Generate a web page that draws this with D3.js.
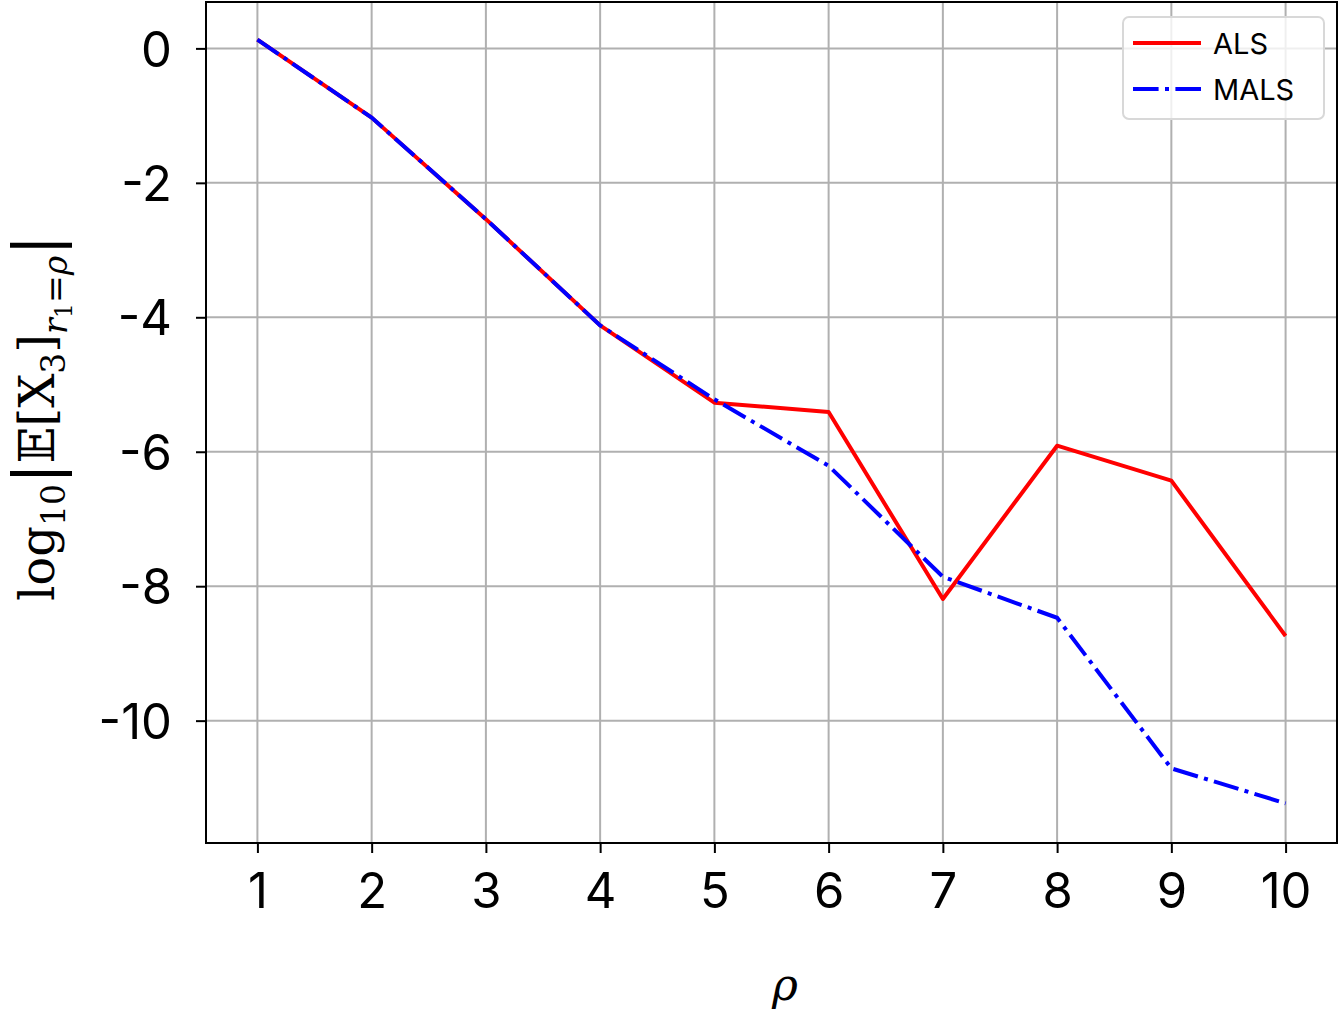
<!DOCTYPE html>
<html>
<head>
<meta charset="utf-8">
<script src="https://cdn.jsdelivr.net/npm/d3@7"></script>
<style>
  body { margin: 0; background: #fff; }
  text { font-family: Inter, "DejaVu Sans", sans-serif; }
</style>
</head>
<body>
<svg id="chart" width="1341" height="1017"></svg>
<script>
const rho = [1, 2, 3, 4, 5, 6, 7, 8, 9, 10]
const als = [0.13, -1.03, -2.54, -4.12, -5.27, -5.41, -8.19, -5.91, -6.43, -8.74]
const mals = [0.13, -1.03, -2.54, -4.12, -5.22, -6.21, -7.86, -8.47, -10.71, -11.23]
const yTicks = [0, -2, -4, -6, -8, -10]

const padL = 206, padR = 1337, padT = 2, padB = 843
const lw = 4

const svg = d3.select('#chart')

const x = d3.scaleLinear().domain([0.55, 10.45]).range([padL, padR])
const y = d3.scaleLinear().domain([-11.82, 0.69]).range([padB, padT])

// grid
const grid = svg.append('g')
grid.selectAll('line.vx').data(rho).enter().append('line')
    .attr('x1', d => x(d)).attr('x2', d => x(d))
    .attr('y1', padT).attr('y2', padB)
    .attr('stroke', '#b0b0b0').attr('stroke-width', 2)
grid.selectAll('line.hy').data(yTicks).enter().append('line')
    .attr('y1', d => y(d)).attr('y2', d => y(d))
    .attr('x1', padL).attr('x2', padR)
    .attr('stroke', '#b0b0b0').attr('stroke-width', 2)

// axes
const xAxis = d3.axisBottom(x).tickValues(rho).tickSize(10).tickPadding(20)
const yAxis = d3.axisLeft(y).tickValues(yTicks).tickSize(10).tickPadding(24)
    .tickFormat(d => String(d))

const gx = svg.append('g').attr('transform', `translate(0,${padB})`).call(xAxis)
const gy = svg.append('g').attr('transform', `translate(${padL},0)`).call(yAxis)
for (const g of [gx, gy]) {
    g.select('.domain').remove()
    g.selectAll('line').attr('stroke', '#000').attr('stroke-width', 2)
    g.selectAll('text').attr('font-size', 49).attr('fill', '#000')
        .style('font-family', 'Inter, "DejaVu Sans", sans-serif')
}
gy.selectAll('text').attr('dy', '0.36em')

// lines
const line = d3.line().x((d, i) => x(rho[i])).y(d => y(d))
svg.append('path').datum(als).attr('d', line)
    .attr('fill', 'none').attr('stroke', '#ff0000').attr('stroke-width', lw)
    .attr('stroke-linejoin', 'round')
svg.append('path').datum(mals).attr('d', line)
    .attr('fill', 'none').attr('stroke', '#0000ff').attr('stroke-width', lw)
    .attr('stroke-dasharray', [6.4 * lw, 1.6 * lw, 1 * lw, 1.6 * lw].join(','))

// frame
svg.append('rect').attr('x', padL).attr('y', padT)
    .attr('width', padR - padL).attr('height', padB - padT)
    .attr('fill', 'none').attr('stroke', '#000').attr('stroke-width', 2)

// legend
const lg = svg.append('g')
lg.append('rect').attr('x', 1123).attr('y', 17).attr('width', 201).attr('height', 102)
    .attr('rx', 6).attr('fill', '#fff').attr('fill-opacity', 0.8)
    .attr('stroke', '#d8d8d8').attr('stroke-width', 2)
const items = [
    { name: 'ALS', color: '#ff0000', dash: null },
    { name: 'MALS', color: '#0000ff', dash: [6.4 * lw, 1.6 * lw, 1 * lw, 1.6 * lw].join(',') }
]
items.forEach((it, i) => {
    const yy = 43 + i * 46
    lg.append('line').attr('x1', 1133).attr('x2', 1201).attr('y1', yy).attr('y2', yy)
        .attr('stroke', it.color).attr('stroke-width', lw)
        .attr('stroke-dasharray', it.dash)
    lg.append('text').attr('x', 1213).attr('y', yy + 11)
        .attr('font-size', 29).text(it.name)
})

// axis labels
svg.append('text').attr('x', 785).attr('y', 1000)
    .attr('text-anchor', 'middle').attr('font-size', 44)
    .style('font-family', '"DejaVu Serif", "Liberation Serif", serif')
    .style('font-style', 'italic').text('ρ')

const yl = svg.append('text')
    .attr('transform', 'translate(54,418) rotate(-90)')
    .attr('text-anchor', 'middle').attr('font-size', 48)
    .style('font-family', '"DejaVu Serif", "Liberation Serif", serif')
yl.append('tspan').text('log')
yl.append('tspan').attr('font-size', 33).attr('dy', 11).text('10')
yl.append('tspan').attr('dy', -8).attr('font-size', 62).text('|')
yl.append('tspan').attr('dy', -3).text('𝔼[X')
yl.append('tspan').attr('font-size', 33).attr('dy', 11).text('3')
yl.append('tspan').attr('dy', -11).text(']')
yl.append('tspan').attr('font-size', 33).attr('dy', 13).style('font-style', 'italic').text('r')
yl.append('tspan').attr('font-size', 24).attr('dy', 5).text('1')
yl.append('tspan').attr('font-size', 33).attr('dy', -5).text('=')
yl.append('tspan').attr('font-size', 33).style('font-style', 'italic').text('ρ')
yl.append('tspan').attr('dy', -10).attr('font-size', 62).text('|')
</script>
</body>
</html>
